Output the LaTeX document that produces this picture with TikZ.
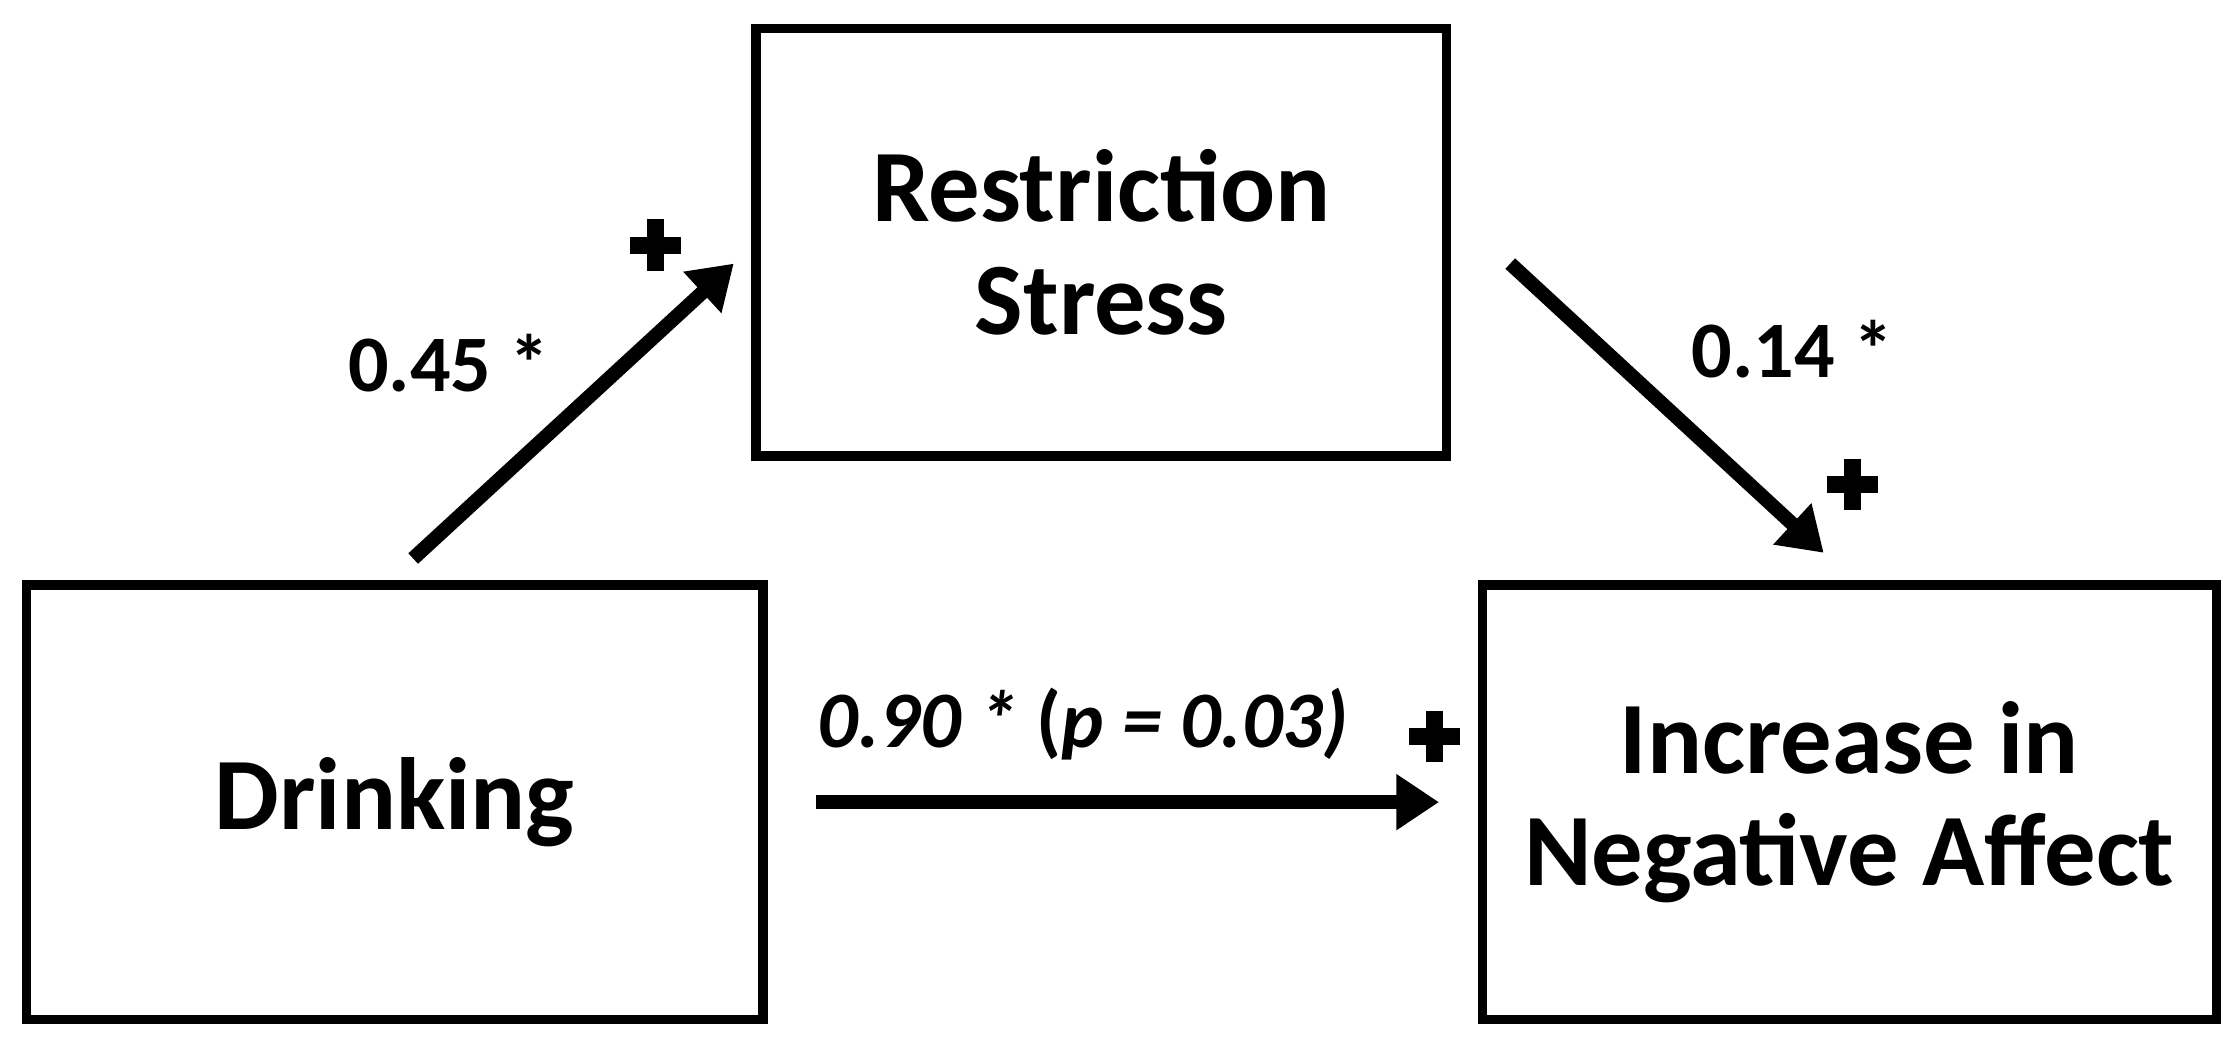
\documentclass[tikz,border=0pt]{standalone}
\usepackage{fontspec}
\setmainfont{Carlito}
\usetikzlibrary{arrows.meta}
\usetikzlibrary{positioning}
\usetikzlibrary{calc}

\newcommand{\plusmark}[1]{\draw[line width=0.24cm] ($(#1)+(-18,0)$) -- ($(#1)+(18,0)$);
  \draw[line width=0.24cm] ($(#1)+(0,-18)$) -- ($(#1)+(0,18)$);}

\begin{document}
\begin{tikzpicture}[x=0.02cm,y=-0.02cm,font=\bfseries,
  >={Triangle[length=0.6cm,width=0.75cm]}]
\tikzstyle{box}=[draw,line width=0.13cm,align=center,font=\fontsize{41}{49}\selectfont\bfseries]
\tikzstyle{link}=[->,line width=0.2cm]
\tikzstyle{coef}=[font=\fontsize{32}{37}\selectfont\bfseries]
\useasboundingbox (0,0) rectangle (1568,730);

\node[box,minimum width=10.34cm,minimum height=6.1cm] (drink) at (277,563) {Drinking};
\node[box,minimum width=9.7cm,minimum height=6cm] (stress) at (773,170) {Restriction\\[-4pt]Stress};
\node[box,minimum width=10.3cm,minimum height=6.1cm] (affect) at (1298,563) {Increase in\\[-4pt]Negative Affect};

\coordinate (a1s) at (290,392); \coordinate (a1e) at (515,185);
\coordinate (a2s) at (1060,185); \coordinate (a2e) at (1280,388);
\coordinate (a3s) at (573,563); \coordinate (a3e) at (1010,563);
\draw[link] (a1s) -- (a1e);
\draw[link] (a2s) -- (a2e);
\draw[link] (a3s) -- (a3e);

\node[coef] (c1) at (315,255) {0.45 *};
\node[coef] (c2) at (1258,245) {0.14 *};
\node[coef] (c3) at (760,508) {\itshape 0.90 * \upshape(\itshape p = 0.03)};

\coordinate (p1) at (460,172);
\coordinate (p2) at (1300,340);
\coordinate (p3) at (1007,517);
\plusmark{p1}
\plusmark{p2}
\plusmark{p3}
\end{tikzpicture}
\end{document}
